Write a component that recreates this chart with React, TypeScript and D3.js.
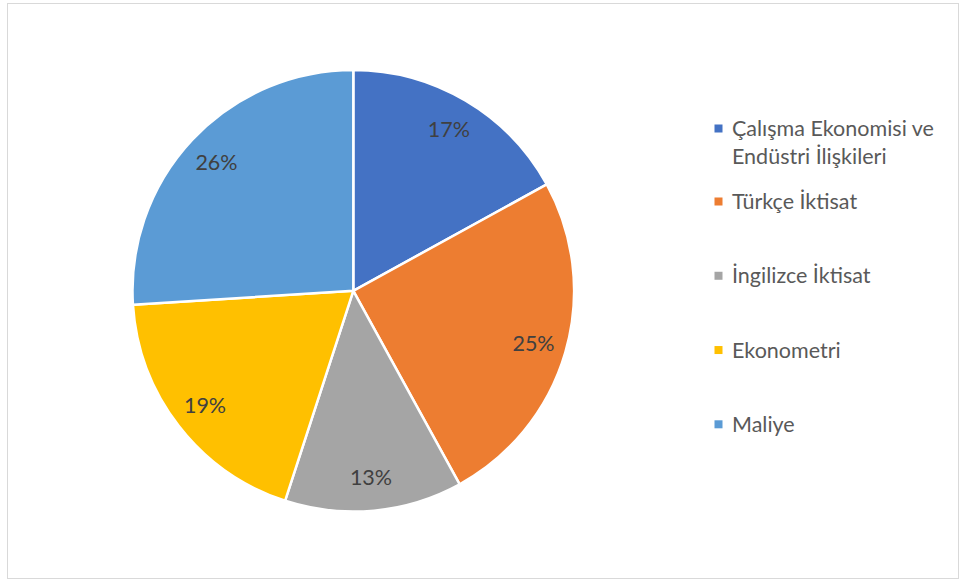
import React from "react";
import * as d3 from "d3";

const categories = [
  "Çalışma Ekonomisi ve Endüstri İlişkileri",
  "Türkçe İktisat",
  "İngilizce İktisat",
  "Ekonometri",
  "Maliye",
];
const values = [17, 25, 13, 19, 26];
const colors = ["#4472C4", "#ED7D31", "#A5A5A5", "#FFC000", "#5B9BD5"];

const W = 959;
const H = 581;
const FONT = "Lato, 'Open Sans', sans-serif";
const FS = 21.5;

function wrap(text: string, maxW: number): string[] {
  const c = document.createElement("canvas").getContext("2d");
  if (!c) return [text];
  c.font = `${FS}px ${FONT}`;
  const words = text.split(" ");
  const lines: string[] = [];
  let cur = "";
  for (const w of words) {
    const t = cur ? cur + " " + w : w;
    if (c.measureText(t).width > maxW && cur) {
      lines.push(cur);
      cur = w;
    } else cur = t;
  }
  if (cur) lines.push(cur);
  return lines;
}

export default function App() {
  const cx = 353.3;
  const cy = 290.8;
  const r = 220.8;
  const total = d3.sum(values);
  const pie = d3.pie<number>().sort(null).value((d) => d)(values);
  const arc = d3.arc<d3.PieArcDatum<number>>().innerRadius(0).outerRadius(r);
  const labelArc = d3
    .arc<d3.PieArcDatum<number>>()
    .innerRadius(r * 0.85)
    .outerRadius(r * 0.85);
  const fmt = d3.format(".0%");

  const legendY = d3.scalePoint<number>().domain(d3.range(1, categories.length)).range([201.5, 424.3]);
  const legendRows = categories.map((c, i) => ({
    name: c,
    lines: wrap(c, 222),
    y: i === 0 ? 128.5 : (legendY(i) as number),
  }));

  return (
    <svg
      width={W}
      height={H}
      style={{ position: "absolute", left: 0, top: 0, background: "#fff" }}
      fontFamily={FONT}
    >
      <rect x={7.5} y={3.5} width={951} height={575} fill="#fff" stroke="#D9D9D9" strokeWidth={1} />
      <g transform={`translate(${cx},${cy})`}>
        {pie.map((p, i) => (
          <path key={i} d={arc(p) || ""} fill={colors[i]} stroke="#fff" strokeWidth={2.5} strokeLinejoin="round" />
        ))}
        {pie.map((p, i) => {
          const [x, y] = labelArc.centroid(p);
          return (
            <text key={i} x={x} y={y} dy="0.35em" textAnchor="middle" fontSize={FS} fill="#404040">
              {fmt(p.data / total)}
            </text>
          );
        })}
      </g>
      <g>
        {legendRows.map((row, i) => (
          <g key={i}>
            <rect x={714.5} y={row.y - 4} width={8} height={8} fill={colors[i]} />
            <text x={732} y={row.y} fontSize={FS} fill="#595959">
              {row.lines.map((l, j) => (
                <tspan key={j} x={732} dy={j === 0 ? "0.35em" : 28}>
                  {l}
                </tspan>
              ))}
            </text>
          </g>
        ))}
      </g>
    </svg>
  );
}
